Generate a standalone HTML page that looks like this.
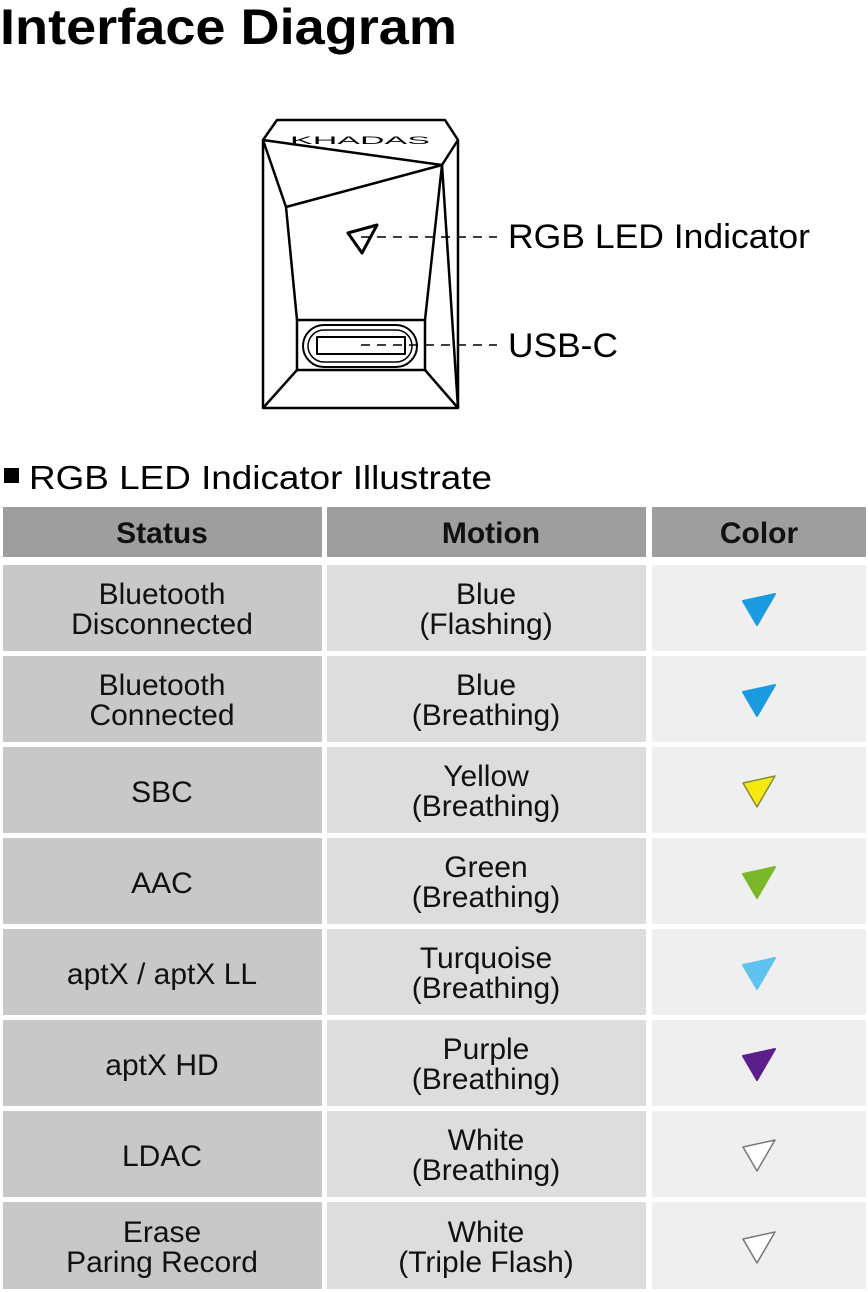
<!DOCTYPE html>
<html><head><meta charset="utf-8"><style>
html,body{margin:0;padding:0;background:#fff;}
svg{display:block;font-family:"Liberation Sans",sans-serif;}
</style></head><body>
<svg width="868" height="1292" viewBox="0 0 868 1292" xmlns="http://www.w3.org/2000/svg">
<rect width="868" height="1292" fill="#fff"/>
<text x="0" y="44" font-size="50" font-weight="bold" textLength="457" lengthAdjust="spacingAndGlyphs" fill="#000">Interface Diagram</text>

<g fill="none" stroke="#000" stroke-width="2.5" stroke-linejoin="round">
<polygon points="263,140 277,120 445,120 458,140 458,408 263,408"/>
<polyline points="263,140 442,165 458,140"/>
<polyline points="442,165 286,207 263,140"/>
<line x1="286" y1="207" x2="297" y2="320"/>
<line x1="442" y1="165" x2="425" y2="320"/>
<line x1="442" y1="165" x2="458" y2="408"/>
<rect x="297" y="320" width="128" height="50"/>
<line x1="297" y1="370" x2="263" y2="408"/>
<line x1="425" y1="370" x2="458" y2="408"/>
<rect x="303" y="325" width="114" height="42" rx="21" stroke-width="2"/>
<rect x="308" y="330" width="104" height="32" rx="16" stroke-width="1.5"/>
<rect x="317" y="337" width="88" height="17" stroke-width="2"/>
<polygon points="348,233 377,225 362,253" stroke-width="3"/>
</g>
<text x="290" y="144" font-size="11" fill="#000" textLength="140" lengthAdjust="spacingAndGlyphs">KHADAS</text>
<g stroke="#000" stroke-width="1.5" stroke-dasharray="9,7">
<line x1="361" y1="237" x2="497" y2="237"/>
<line x1="361" y1="345" x2="497" y2="345"/>
</g>
<text x="508" y="248" font-size="34" fill="#000" textLength="302" lengthAdjust="spacingAndGlyphs">RGB LED Indicator</text>
<text x="508" y="357" font-size="34" fill="#000" textLength="110" lengthAdjust="spacingAndGlyphs">USB-C</text>

<rect x="4" y="468" width="15" height="15" fill="#000"/>
<text x="29" y="489" font-size="33" fill="#000" textLength="463" lengthAdjust="spacingAndGlyphs">RGB LED Indicator Illustrate</text>

<rect x="3" y="507" width="319" height="50" fill="#9e9e9e"/>
<rect x="327" y="507" width="319" height="50" fill="#9e9e9e"/>
<rect x="652" y="507" width="214" height="50" fill="#9e9e9e"/>
<g font-size="30" font-weight="bold" text-anchor="middle" fill="#111">
<text x="162" y="543">Status</text>
<text x="491" y="543">Motion</text>
<text x="759" y="543">Color</text>
</g>

<g font-size="30" text-anchor="middle" fill="#111">
<g transform="translate(0,565)">
<rect x="3" y="0" width="319" height="86" fill="#c8c8c8"/><rect x="327" y="0" width="319" height="86" fill="#dddddd"/><rect x="652" y="0" width="214" height="86" fill="#efefef"/>
<text x="162" y="39">Bluetooth</text><text x="162" y="69">Disconnected</text>
<text x="486" y="39">Blue</text><text x="486" y="69">(Flashing)</text>
<polygon points="743,36 775,29 757,60" fill="#1a9be0" stroke="#1a9be0" stroke-width="2" stroke-linejoin="round"/>
</g>
<g transform="translate(0,656)">
<rect x="3" y="0" width="319" height="86" fill="#c8c8c8"/><rect x="327" y="0" width="319" height="86" fill="#dddddd"/><rect x="652" y="0" width="214" height="86" fill="#efefef"/>
<text x="162" y="39">Bluetooth</text><text x="162" y="69">Connected</text>
<text x="486" y="39">Blue</text><text x="486" y="69">(Breathing)</text>
<polygon points="743,36 775,29 757,60" fill="#1a9be0" stroke="#1a9be0" stroke-width="2" stroke-linejoin="round"/>
</g>
<g transform="translate(0,747)">
<rect x="3" y="0" width="319" height="86" fill="#c8c8c8"/><rect x="327" y="0" width="319" height="86" fill="#dddddd"/><rect x="652" y="0" width="214" height="86" fill="#efefef"/>
<text x="162" y="55">SBC</text>
<text x="486" y="39">Yellow</text><text x="486" y="69">(Breathing)</text>
<polygon points="743,36 775,29 757,60" fill="#f5ea10" stroke="#8a8a40" stroke-width="1.5" stroke-linejoin="round"/>
</g>
<g transform="translate(0,838)">
<rect x="3" y="0" width="319" height="86" fill="#c8c8c8"/><rect x="327" y="0" width="319" height="86" fill="#dddddd"/><rect x="652" y="0" width="214" height="86" fill="#efefef"/>
<text x="162" y="55">AAC</text>
<text x="486" y="39">Green</text><text x="486" y="69">(Breathing)</text>
<polygon points="743,36 775,29 757,60" fill="#7ab829" stroke="#7ab829" stroke-width="2" stroke-linejoin="round"/>
</g>
<g transform="translate(0,929)">
<rect x="3" y="0" width="319" height="86" fill="#c8c8c8"/><rect x="327" y="0" width="319" height="86" fill="#dddddd"/><rect x="652" y="0" width="214" height="86" fill="#efefef"/>
<text x="162" y="55">aptX / aptX LL</text>
<text x="486" y="39">Turquoise</text><text x="486" y="69">(Breathing)</text>
<polygon points="743,36 775,29 757,60" fill="#5ec3ee" stroke="#5ec3ee" stroke-width="2" stroke-linejoin="round"/>
</g>
<g transform="translate(0,1020)">
<rect x="3" y="0" width="319" height="86" fill="#c8c8c8"/><rect x="327" y="0" width="319" height="86" fill="#dddddd"/><rect x="652" y="0" width="214" height="86" fill="#efefef"/>
<text x="162" y="55">aptX HD</text>
<text x="486" y="39">Purple</text><text x="486" y="69">(Breathing)</text>
<polygon points="743,36 775,29 757,60" fill="#5c1e8c" stroke="#5c1e8c" stroke-width="2" stroke-linejoin="round"/>
</g>
<g transform="translate(0,1111)">
<rect x="3" y="0" width="319" height="86" fill="#c8c8c8"/><rect x="327" y="0" width="319" height="86" fill="#dddddd"/><rect x="652" y="0" width="214" height="86" fill="#efefef"/>
<text x="162" y="55">LDAC</text>
<text x="486" y="39">White</text><text x="486" y="69">(Breathing)</text>
<polygon points="743,36 775,29 757,60" fill="#fff" stroke="#777" stroke-width="1.5" stroke-linejoin="round"/>
</g>
<g transform="translate(0,1202)">
<rect x="3" y="0" width="319" height="87" fill="#c8c8c8"/><rect x="327" y="0" width="319" height="87" fill="#dddddd"/><rect x="652" y="0" width="214" height="87" fill="#efefef"/>
<text x="162" y="40">Erase</text><text x="162" y="70">Paring Record</text>
<text x="486" y="40">White</text><text x="486" y="70">(Triple Flash)</text>
<polygon points="743,37 775,30 757,61" fill="#fff" stroke="#777" stroke-width="1.5" stroke-linejoin="round"/>
</g>
</g>
</svg>
</body></html>
